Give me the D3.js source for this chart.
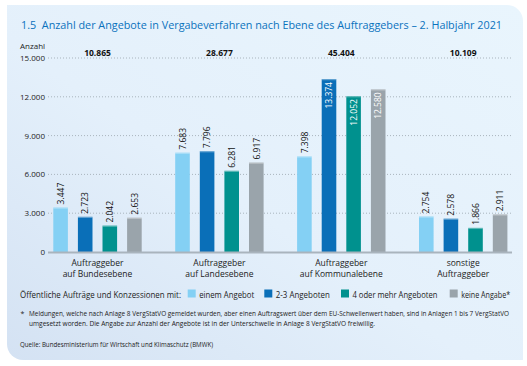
<!DOCTYPE html>
<html><head><meta charset="utf-8">
<script src="https://cdn.jsdelivr.net/npm/d3@7"></script>
<style>
html,body{margin:0;padding:0;background:#fff;}
svg{display:block;font-family:"Open Sans",sans-serif;}
</style></head>
<body>
<svg id="c" width="527" height="366"></svg>
<script>
const title = "1.5  Anzahl der Angebote in Vergabeverfahren nach Ebene des Auftraggebers – 2. Halbjahr 2021";
const categories = [["Auftraggeber","auf Bundesebene"],["Auftraggeber","auf Landesebene"],["Auftraggeber","auf Kommunalebene"],["sonstige","Auftraggeber"]];
const totals = ["10.865","28.677","45.404","10.109"];
const seriesNames = ["einem Angebot","2-3 Angeboten","4 oder mehr Angeboten","keine Angabe*"];
const seriesColors = ["#84d0f4","#0a6fb8","#00918e","#9aa4ab"];
const einemAngebot = [3447, 7683, 7398, 2754];
const zweiDrei = [2723, 7796, 13374, 2578];
const vierMehr = [2042, 6281, 12052, 1866];
const keineAngabe = [2653, 6917, 12580, 2911];
const yTicks = [0, 3000, 6000, 9000, 12000, 15000];
const legendTitle = "Öffentliche Aufträge und Konzessionen mit:";
const footnote = ["Meldungen, welche nach Anlage 8 VergStatVO gemeldet wurden, aber einen Auftragswert über dem EU-Schwellenwert haben, sind in Anlagen 1 bis 7 VergStatVO","umgesetzt worden. Die Angabe zur Anzahl der Angebote ist in der Unterschwelle in Anlage 8 VergStatVO freiwillig."];
const source = "Quelle: Bundesministerium für Wirtschaft und Klimaschutz (BMWK)";

const series = [einemAngebot, zweiDrei, vierMehr, keineAngabe];
const fmt = v => d3.format(",")(v).replace(/,/g, ".");
const fit = (sel, w) => sel.attr("textLength", w).attr("lengthAdjust", "spacingAndGlyphs");

const svg = d3.select("#c");
const defs = svg.append("defs");
const grad = defs.append("linearGradient").attr("id","bg").attr("x1","1").attr("y1","0").attr("x2","0").attr("y2","1");
grad.append("stop").attr("offset","0").attr("stop-color","#e9f5fd");
grad.append("stop").attr("offset","0.55").attr("stop-color","#e4f0fb");
grad.append("stop").attr("offset","1").attr("stop-color","#d4e2f3");

const L=7,T=5,R=523,B=360,r=16;
svg.append("path").attr("fill","url(#bg)")
  .attr("d",`M${L},${T} H${R-r} A${r},${r} 0 0 1 ${R},${T+r} V${B} H${L+r} A${r},${r} 0 0 1 ${L},${B-r} Z`);

fit(svg.append("text").attr("x",21).attr("y",29).attr("fill","#0a72bd")
  .attr("font-size",11.2).attr("xml:space","preserve").text(title), 481);

const y = d3.scaleLinear().domain([0,15000]).range([252,58]);
const x0 = d3.scaleBand().domain(d3.range(4)).range([36.6,524.2]).paddingInner(0).paddingOuter(0);
const x1 = d3.scaleBand().domain(d3.range(4)).range([16.7,16.7+88.4]).paddingInner(0.407).paddingOuter(0);

const gridX1 = 48, gridX2 = 512;
const yAxis = d3.axisLeft(y).tickValues(yTicks).tickFormat(fmt).tickSize(0).tickPadding(3);
const ga = svg.append("g").attr("transform",`translate(${gridX1},0)`).call(yAxis);
ga.select(".domain").remove();
ga.selectAll("text").attr("font-size",8).attr("fill","#222").attr("font-family","Open Sans, sans-serif");
svg.append("g").selectAll("line").data(yTicks.filter(t=>t>0)).join("line")
  .attr("x1",gridX1).attr("x2",gridX2).attr("y1",d=>y(d)).attr("y2",d=>y(d))
  .attr("stroke","#a9b4bd").attr("stroke-width",1).attr("stroke-dasharray","1,2");

svg.append("text").attr("x",20).attr("y",48.5).attr("font-size",8).attr("fill","#222").text("Anzahl");

const groups = svg.append("g").selectAll("g").data(d3.range(4)).join("g")
  .attr("transform",i=>`translate(${x0(i)},0)`);
groups.each(function(ci){
  const g = d3.select(this);
  series.forEach((s,si)=>{
    const v = s[ci];
    const bx = x1(si), bw = x1.bandwidth();
    g.append("rect").attr("x",bx).attr("y",y(v)).attr("width",bw).attr("height",y(0)-y(v))
      .attr("fill",seriesColors[si]);
    g.append("rect").attr("x",bx).attr("y",y(v)).attr("width",bw).attr("height",1.2)
      .attr("fill","#fff").attr("opacity",0.35);
    const inside = v > 11000;
    const ty = inside ? y(v)+3 : y(v)-3;
    g.append("text")
      .attr("transform",`translate(${bx+bw/2+3.2},${ty}) rotate(-90)`)
      .attr("text-anchor", inside ? "end" : "start")
      .attr("font-size",8.5).attr("fill", inside ? "#fff" : "#111")
      .text(fmt(v));
  });
  const cx = x1(0)+ (x1(3)+x1.bandwidth()-x1(0))/2;
  g.append("text").attr("x",cx).attr("y",55.5)
    .attr("text-anchor","middle").attr("font-size",8.5).attr("font-weight","bold").attr("fill","#111")
    .text(totals[ci]);
  categories[ci].forEach((t,li)=>{
    g.append("text").attr("x",cx).attr("y",266+li*10.5).attr("text-anchor","middle")
      .attr("font-size",8.5).attr("fill","#222").text(t);
  });
});

svg.append("line").attr("x1",gridX1).attr("x2",gridX2).attr("y1",y(0)+0.5).attr("y2",y(0)+0.5)
  .attr("stroke","#a9b4bd").attr("stroke-width",2);

const ly = 297.5;
fit(svg.append("text").attr("x",20).attr("y",ly).attr("font-size",8.8).attr("fill","#222").text(legendTitle), 161);
const legX = [187.7, 264.3, 341, 449.7];
const legW = [55, 54, 85, 49];
seriesNames.forEach((n,i)=>{
  svg.append("rect").attr("x",legX[i]).attr("y",ly-8).attr("width",8).attr("height",8).attr("fill",seriesColors[i]);
  fit(svg.append("text").attr("x",legX[i]+11.5).attr("y",ly).attr("font-size",8.8).attr("fill","#222").text(n), legW[i]);
});

svg.append("text").attr("x",20.5).attr("y",315.5).attr("font-size",7).attr("fill","#222").text("*");
const fnW = [480, 346];
const fnS = [6.4, 6.8];
footnote.forEach((t,i)=>{
  fit(svg.append("text").attr("x",29).attr("y",315.5+i*10).attr("font-size",fnS[i]).attr("fill","#222").text(t), fnW[i]);
});
fit(svg.append("text").attr("x",20).attr("y",346.5).attr("font-size",6.8).attr("fill","#222").text(source), 193);
</script>
</body></html>
